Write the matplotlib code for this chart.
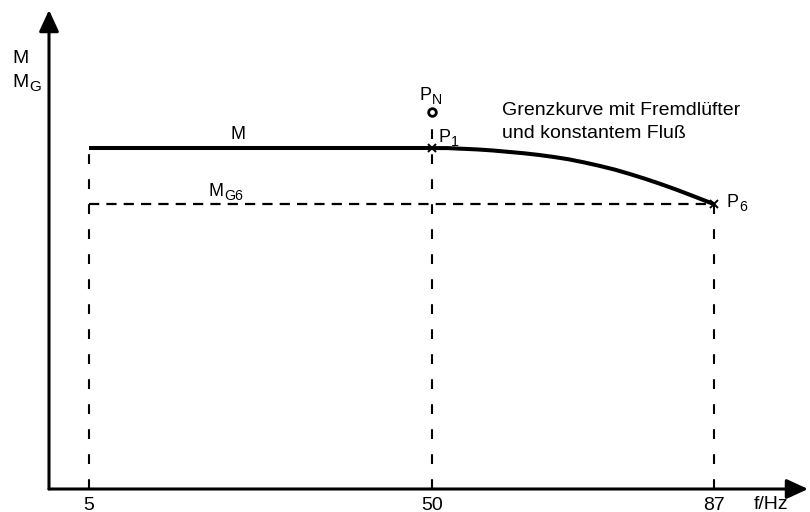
import matplotlib
matplotlib.use("Agg")
import matplotlib.pyplot as plt
from matplotlib.transforms import offset_copy

plt.rcParams['font.family'] = ['Liberation Sans', 'DejaVu Sans']

# Frequency points (Hz) and torque levels (relative to M)
freq_ticks = [5, 50, 87]
freq_min, freq_nom, freq_max = 5, 50, 87
torque_const = 1.0          # M, constant torque up to 50 Hz
torque_g6 = 0.836           # M_G6, limit torque at 87 Hz
torque_nom = 1.106          # P_N, rated point

# Limit curve with external fan and constant flux, 50 .. 87 Hz
curve_freq = [50, 52, 54, 56, 58, 60, 62, 64, 66, 68, 70, 72, 74, 76,
              78, 80, 82, 84, 87]
curve_torque = [1.0, 1.0, 0.998, 0.996, 0.993, 0.989, 0.985, 0.980,
                0.974, 0.967, 0.958, 0.948, 0.937, 0.924, 0.910,
                0.895, 0.879, 0.862, 0.836]

W, H = 810, 512
fig = plt.figure(figsize=(W / 100, H / 100), dpi=100)
x0, y0, x1, y1 = 49, 489, 808, 10
ax = fig.add_axes([x0 / W, (H - y0) / H, (x1 - x0) / W, (y0 - y1) / H])
ax.set_xlim(-0.23, 99.39)
ax.set_ylim(0, 1.405)
for s in ax.spines.values():
    s.set_visible(False)
ax.patch.set_visible(False)

# Axes with arrow heads
arrow = dict(arrowstyle='-|>,head_length=1.3,head_width=0.6', lw=2.2,
             color='black', shrinkA=0, shrinkB=0, mutation_scale=10)
ax.annotate('', xy=(1, 0), xytext=(0, 0), xycoords='axes fraction',
            arrowprops=arrow)
ax.annotate('', xy=(0, 1), xytext=(0, 0), xycoords='axes fraction',
            arrowprops=arrow)

ax.set_xticks(freq_ticks)
ax.set_xticklabels([str(v) for v in freq_ticks])
ax.tick_params(axis='x', length=0, pad=5.5, labelsize=14)
ax.set_yticks([])

dash_v = dict(color='black', lw=1.5, dashes=(4.7, 7.3))
dash_h = dict(color='black', lw=1.6, dashes=(4.6, 3.2))

# Vertical guide lines
ax.plot([freq_min, freq_min], [0, torque_const], **dash_v)
ax.plot([freq_nom, freq_nom], [0, torque_nom - 0.02], **dash_v)
ax.plot([freq_max, freq_max], [0, torque_g6], **dash_v)
# Horizontal M_G6 level
ax.plot([freq_min, freq_max], [torque_g6, torque_g6], **dash_h)

# Constant torque line and limit curve
ax.plot([freq_min, freq_nom], [torque_const, torque_const],
        color='black', lw=2.9, solid_capstyle='butt')
ax.plot(curve_freq, curve_torque, color='black', lw=2.9,
        solid_joinstyle='round', solid_capstyle='butt')

# Operating points
ax.plot([freq_nom, freq_max], [torque_const, torque_g6], ls='none',
        marker='x', ms=6, mew=1.4, color='black')
ax.plot([freq_nom], [torque_nom], ls='none', marker='o', ms=5.5,
        mew=2, mfc='white', mec='black')

renderer = fig.canvas.get_renderer()


def label(base, sub, xy, dx, dy, size, trans=None):
    """Draw a label with a subscript placed right after the base text."""
    trans = ax.transData if trans is None else trans
    t = fig.text(0, 0, base, fontsize=size, va='baseline',
                 transform=offset_copy(trans, fig=fig, x=dx, y=dy,
                                       units='dots'))
    t.set_position(xy)
    if sub:
        w = t.get_window_extent(renderer).width
        fig.text(xy[0], xy[1], sub, fontsize=size * 0.78, va='baseline',
                 transform=offset_copy(trans, fig=fig, x=dx + w + 0.5,
                                       y=dy - 4, units='dots'))


fs = 13
label('P', 'N', (freq_nom, torque_nom), -12, 12, fs)
label('P', '1', (freq_nom, torque_const), 7, 6, fs)
label('P', '6', (freq_max, torque_g6), 13, -3, fs)
label('M', '', (freq_min, torque_const), 142, 9, fs)
label('M', 'G6', (freq_min, torque_g6), 120, 8, fs)
label('Grenzkurve mit Fremdlüfter', '', (freq_nom, torque_const), 70, 33, 14)
label('und konstantem Fluß', '', (freq_nom, torque_const), 70, 10, 14)

# Axis titles
label('M', '', (12 / W, 1 - 63 / H), 0, 0, 14, fig.transFigure)
label('M', 'G', (12 / W, 1 - 87 / H), 0, 0, 14, fig.transFigure)
fig.text(771 / W, 1 - 509 / H, 'f/Hz', fontsize=14, va='baseline',
         ha='center')

fig.savefig('out.png', dpi=100)
